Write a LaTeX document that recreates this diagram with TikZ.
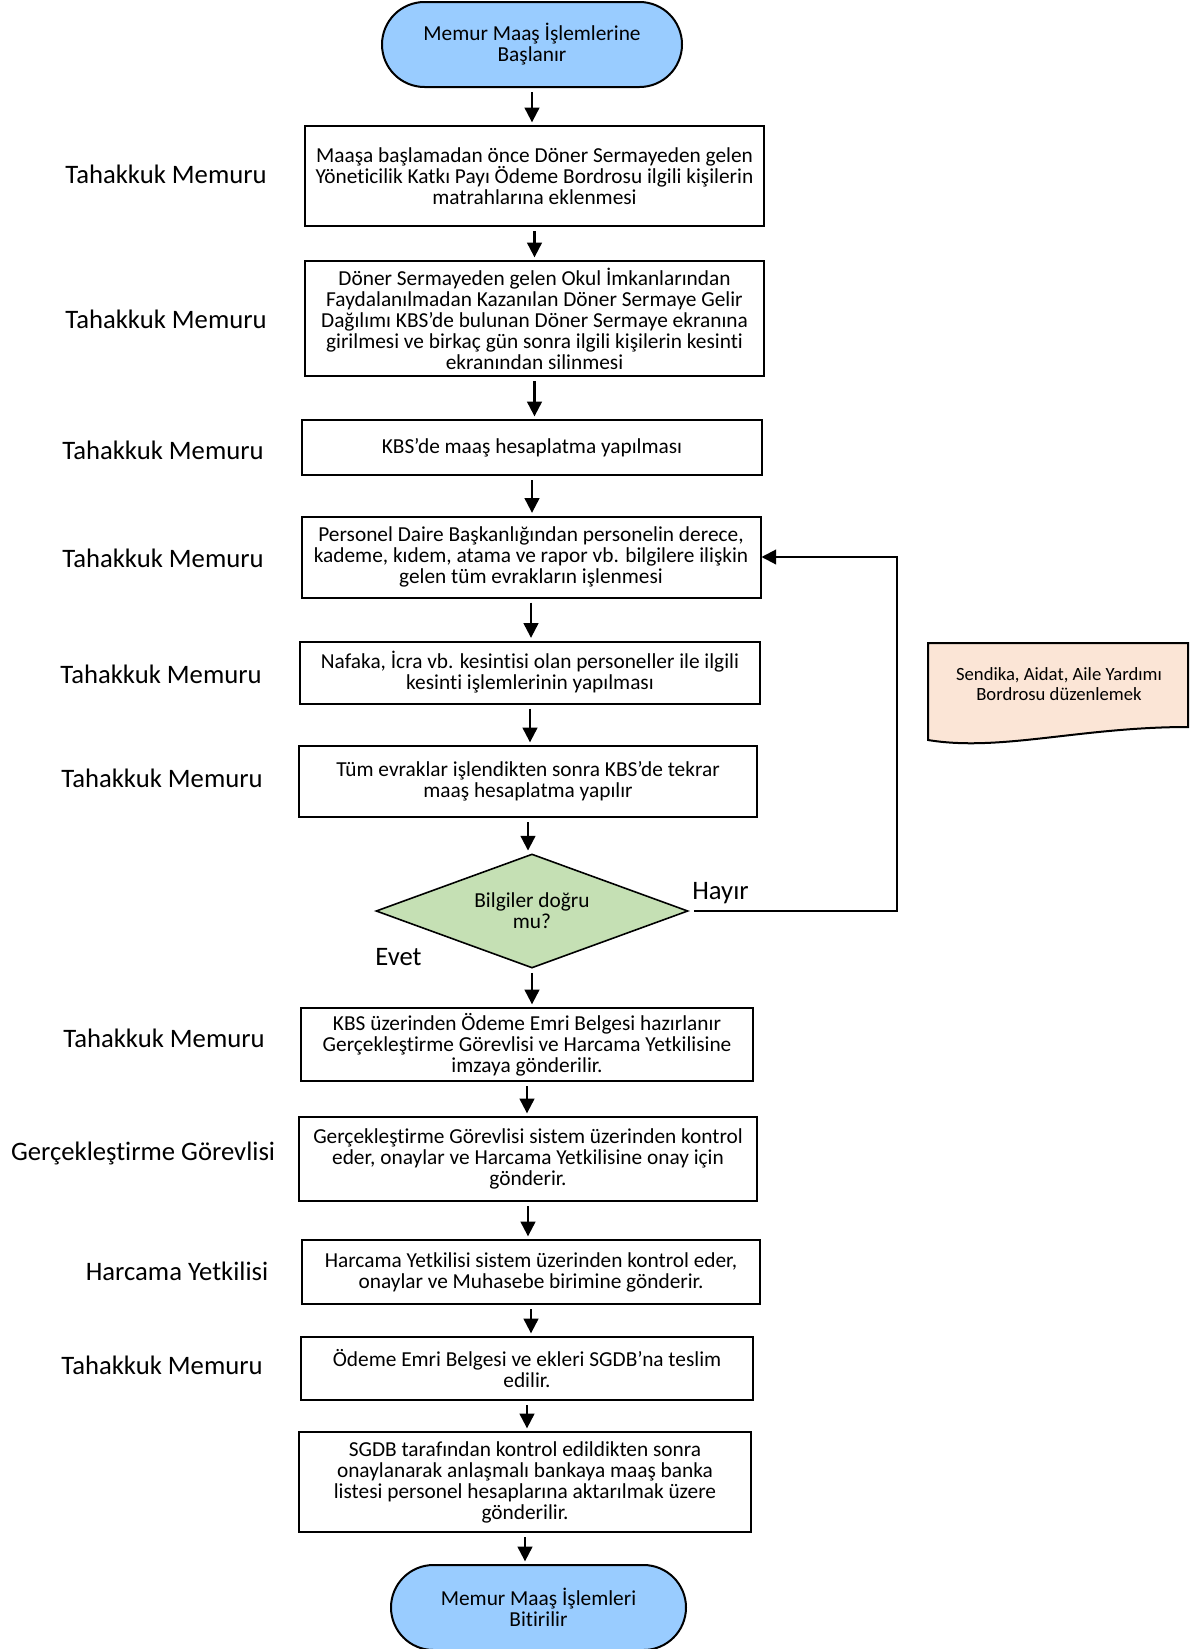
\documentclass[tikz,border=0pt]{standalone}
\usepackage{fontspec}
\setmainfont{Carlito}[Ligatures=NoCommon]
\usetikzlibrary{shapes.geometric,shapes.misc,arrows.meta}
\definecolor{termblue}{HTML}{99CCFF}
\definecolor{decgreen}{HTML}{C5E0B4}
\definecolor{docpeach}{HTML}{FBE5D6}

\begin{document}
\begin{tikzpicture}[x=0.75pt,y=0.75pt,yscale=-1,xscale=1,
  boxtxt/.style={font=\fontsize{16}{15.75}\selectfont},
  stepbox/.style={draw,line width=1.5pt,rectangle,align=center,inner sep=0pt,boxtxt},
  termbox/.style={draw,line width=1.5pt,rounded rectangle,fill=termblue,align=center,inner sep=0pt,boxtxt},
  decbox/.style={draw,line width=1.2pt,diamond,aspect=2.74,fill=decgreen,align=center,inner sep=0pt,boxtxt},
  rolelbl/.style={font=\fontsize{20}{24}\selectfont,inner sep=0pt},
  arr/.style={line width=1.6pt,-{Triangle[width=11pt,length=11pt]},shorten <=3pt,shorten >=2pt}
]
\path[use as bounding box] (0,0) rectangle (1197,1649);

%Shape: Terminal [id:start]
\draw (532,44.5) node [termbox,minimum width=225pt,minimum height=63.75pt] (start) {Memur Maaş İşlemlerine\\Başlanır};

%Shape: Rectangle [id:b1]
\draw (534.5,176) node [stepbox,minimum width=344.25pt,minimum height=75pt] (b1) {Maaşa başlamadan önce Döner Sermayeden gelen\\Yöneticilik Katkı Payı Ödeme Bordrosu ilgili kişilerin\\matrahlarına eklenmesi};
%Shape: Rectangle [id:b2]
\draw (534.5,318.5) node [stepbox,minimum width=344.25pt,minimum height=86.25pt] (b2) {Döner Sermayeden gelen Okul İmkanlarından\\Faydalanılmadan Kazanılan Döner Sermaye Gelir\\Dağılımı KBS’de bulunan Döner Sermaye ekranına\\girilmesi ve birkaç gün sonra ilgili kişilerin kesinti\\ekranından silinmesi};
%Shape: Rectangle [id:b3]
\draw (532,447.5) node [stepbox,minimum width=345pt,minimum height=41.25pt] (b3) {KBS’de maaş hesaplatma yapılması};
%Shape: Rectangle [id:b4]
\draw (531,557) node [stepbox,minimum width=344.25pt,minimum height=60.75pt] (b4) {Personel Daire Başkanlığından personelin derece,\\kademe, kıdem, atama ve rapor vb. bilgilere ilişkin\\gelen tüm evrakların işlenmesi};
%Shape: Rectangle [id:b5]
\draw (530,672.5) node [stepbox,minimum width=345pt,minimum height=46.5pt] (b5) {Nafaka, İcra vb. kesintisi olan personeller ile ilgili\\kesinti işlemlerinin yapılması};
%Shape: Rectangle [id:b6]
\draw (528,781.5) node [stepbox,minimum width=343.5pt,minimum height=53.25pt] (b6) {Tüm evraklar işlendikten sonra KBS’de tekrar\\maaş hesaplatma yapılır};

%Shape: Diamond [id:dec]
\draw (532,911) node [decbox,minimum width=234pt,minimum height=85.5pt] (dec) {Bilgiler doğru\\mu?};

%Shape: Rectangle [id:b7]
\draw (527,1044.5) node [stepbox,minimum width=339pt,minimum height=54.75pt] (b7) {KBS üzerinden Ödeme Emri Belgesi hazırlanır\\Gerçekleştirme Görevlisi ve Harcama Yetkilisine\\imzaya gönderilir.};
%Shape: Rectangle [id:b8]
\draw (528,1159) node [stepbox,minimum width=343.5pt,minimum height=63pt] (b8) {Gerçekleştirme Görevlisi sistem üzerinden kontrol\\eder, onaylar ve Harcama Yetkilisine onay için\\gönderir.};
%Shape: Rectangle [id:b9]
\draw (531,1272) node [stepbox,minimum width=343.5pt,minimum height=48pt] (b9) {Harcama Yetkilisi sistem üzerinden kontrol eder,\\onaylar ve Muhasebe birimine gönderir.};
%Shape: Rectangle [id:b10]
\draw (527,1368.5) node [stepbox,minimum width=339pt,minimum height=47.25pt] (b10) {Ödeme Emri Belgesi ve ekleri SGDB’na teslim\\edilir.};
%Shape: Rectangle [id:b11]
\draw (525,1482) node [stepbox,minimum width=339pt,minimum height=75pt] (b11) {SGDB tarafından kontrol edildikten sonra\\onaylanarak anlaşmalı bankaya maaş banka\\listesi personel hesaplarına aktarılmak üzere\\gönderilir.};

%Shape: Terminal [id:end]
\draw (538.5,1607.5) node [termbox,minimum width=221.25pt,minimum height=63.75pt] (end) {Memur Maaş İşlemleri\\Bitirilir};

%Shape: Document [id:doc]
\draw [line width=1.5pt,fill=docpeach] (928,643) -- (1188,643) -- (1188,727) .. controls (1080,727) and (1000,752) .. (928,740) -- cycle ;
% Text Node
\draw (1059,684) node [font=\fontsize{14}{15}\selectfont,align=center,inner sep=0pt] (doctxt) {Sendika, Aidat, Aile Yardımı\\Bordrosu düzenlemek};

% Text Node
\draw (166,174.5) node [rolelbl] (r1) {Tahakkuk Memuru};
% Text Node
\draw (166,319) node [rolelbl] (r2) {Tahakkuk Memuru};
% Text Node
\draw (163,450) node [rolelbl] (r3) {Tahakkuk Memuru};
% Text Node
\draw (163,558.5) node [rolelbl] (r4) {Tahakkuk Memuru};
% Text Node
\draw (161,674) node [rolelbl] (r5) {Tahakkuk Memuru};
% Text Node
\draw (162,778) node [rolelbl] (r6) {Tahakkuk Memuru};
% Text Node
\draw (164,1038) node [rolelbl] (r7) {Tahakkuk Memuru};
% Text Node
\draw (143,1153) node [rolelbl] (r8) {Gerçekleştirme Görevlisi};
% Text Node
\draw (177,1271) node [rolelbl] (r9) {Harcama Yetkilisi};
% Text Node
\draw (162,1365) node [rolelbl] (r10) {Tahakkuk Memuru};
% Text Node
\draw (398.5,957) node [rolelbl] (evet) {Evet};
% Text Node
\draw (720.5,893) node [rolelbl] (hayir) {Hayır};

% Connectors
\draw [arr] (start.south) -- (start.south |- b1.north);
\draw [arr] (b1.south) -- (b1.south |- b2.north);
\draw [arr] (b2.south) -- (b2.south |- b3.north);
\draw [arr] (b3.south) -- (b3.south |- b4.north);
\draw [arr] (b4.south) -- (b4.south |- b5.north);
\draw [arr] (b5.south) -- (b5.south |- b6.north);
\draw [arr] (b6.south) -- (b6.south |- dec.north);
\draw [arr] (dec.south) -- (dec.south |- b7.north);
\draw [arr] (b7.south) -- (b7.south |- b8.north);
\draw [arr] (b8.south) -- (b8.south |- b9.north);
\draw [arr] (b9.south) -- (b9.south |- b10.north);
\draw [arr] (b10.south) -- (b10.south |- b11.north);
\draw [arr] (b11.south) -- (b11.south |- end.north);
\coordinate (hturn) at (897,913);
\draw [arr,shorten <=4pt,shorten >=0pt] (dec.east) -- (dec.east -| hturn) |- (b4.east);
\end{tikzpicture}
\end{document}
